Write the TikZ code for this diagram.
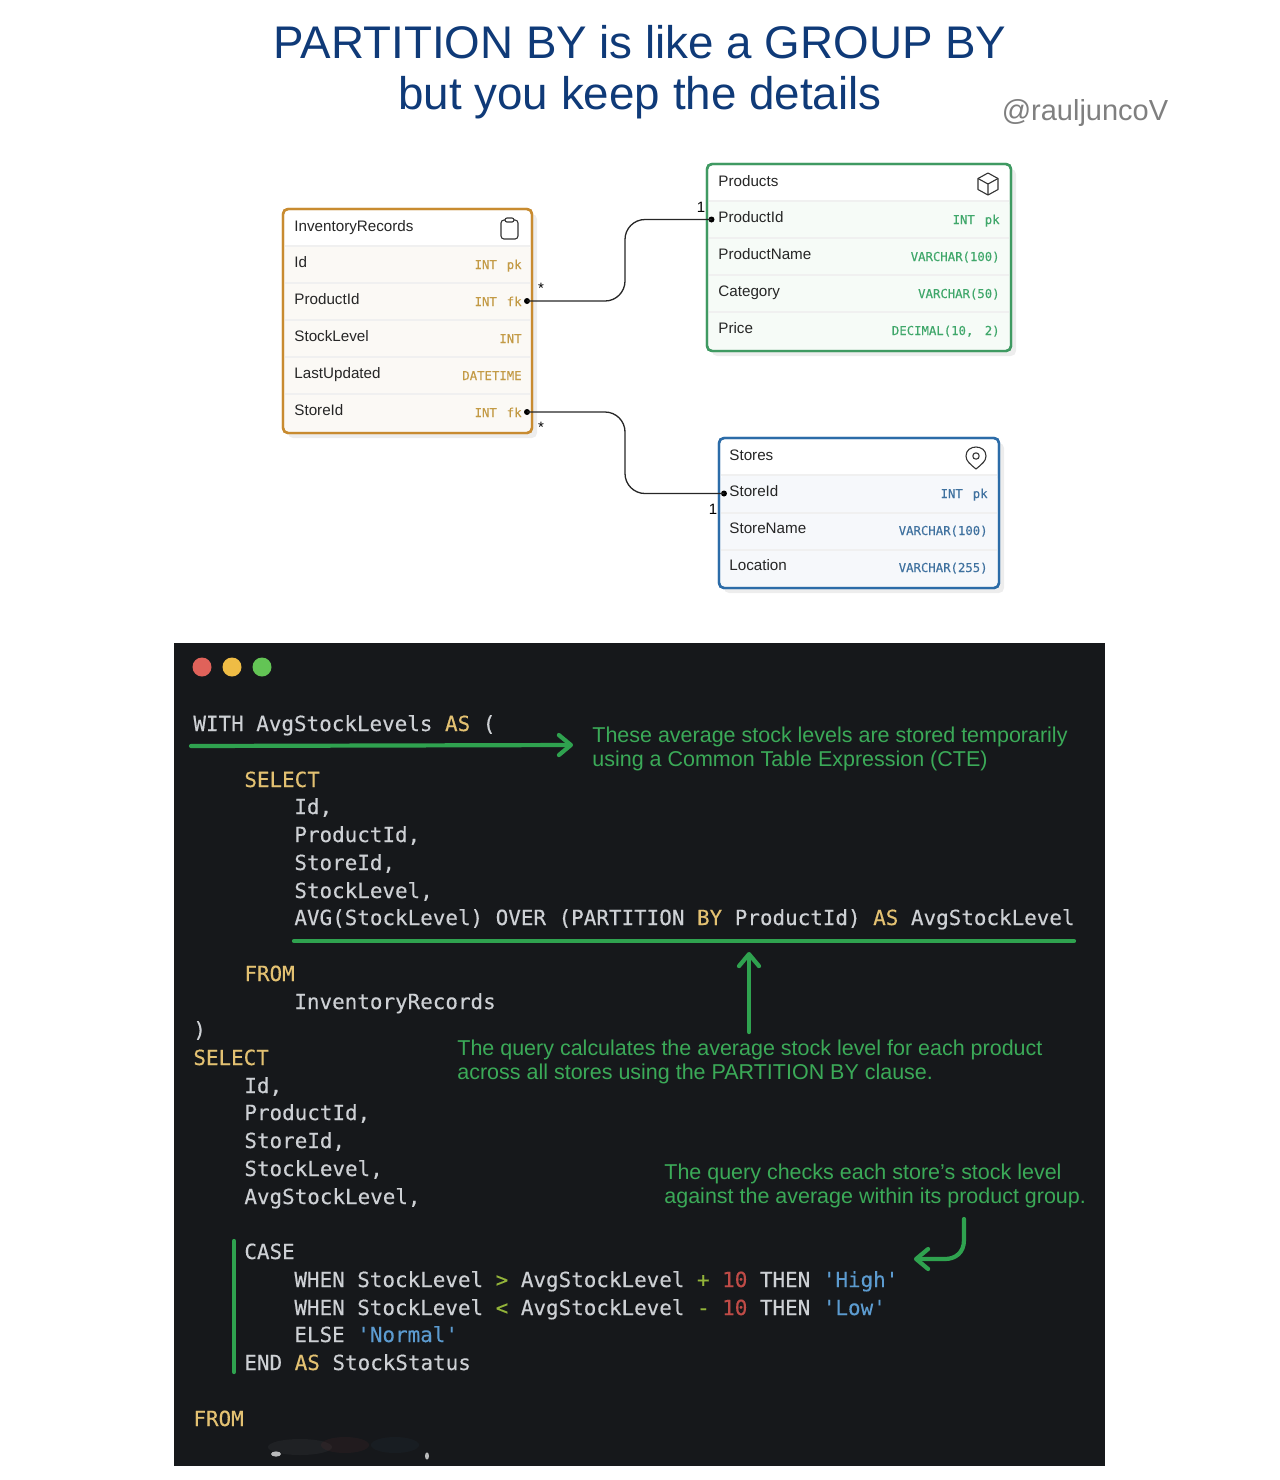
\documentclass[tikz,border=0pt]{standalone}
\usepackage{fontspec}
\setmainfont{Liberation Sans}
\newfontfamily\codefont[FakeBold=0.25]{DejaVu Sans Mono}
\usepackage{xcolor}
\usetikzlibrary{positioning,calc,shadows,arrows.meta}

\definecolor{titleblue}{HTML}{0F3A78}
\definecolor{handlegray}{HTML}{7F7F7F}
\definecolor{invline}{HTML}{C88B30}
\definecolor{invtint}{HTML}{FBF9F5}
\definecolor{invtype}{HTML}{C39A45}
\definecolor{prodline}{HTML}{3F9A62}
\definecolor{prodtint}{HTML}{F6FBF7}
\definecolor{prodtype}{HTML}{3FA76A}
\definecolor{storeline}{HTML}{2C6CA8}
\definecolor{storetint}{HTML}{F6F8FB}
\definecolor{storetype}{HTML}{3F719F}
\definecolor{windowbg}{HTML}{16181B}
\definecolor{codetext}{HTML}{CDD0D4}
\definecolor{codekey}{HTML}{E3C172}
\definecolor{codenum}{HTML}{BF4B47}
\definecolor{codestr}{HTML}{5C9BD0}
\definecolor{codeop}{HTML}{93B43A}
\definecolor{annotgreen}{HTML}{2FA24F}
\definecolor{annottext}{HTML}{3BAA58}
\definecolor{btnred}{HTML}{E0625A}
\definecolor{btnyellow}{HTML}{EFBC45}
\definecolor{btngreen}{HTML}{63C455}

\newcommand{\kw}[1]{\textcolor{codekey}{#1}}
\newcommand{\num}[1]{\textcolor{codenum}{#1}}
\newcommand{\str}[1]{\textcolor{codestr}{#1}}
\newcommand{\op}[1]{\textcolor{codeop}{#1}}

\tikzset{
    titletext/.style={anchor=base, font=\fontsize{22.87}{26}\selectfont, text=titleblue, inner sep=0},
    entitybox/.style={rectangle, rounded corners=2.5pt, line width=1.2pt, fill=white, inner sep=0,
        drop shadow={shadow xshift=2.5pt, shadow yshift=-2.5pt, fill=black, opacity=0.07}},
    fieldname/.style={anchor=base west, inner sep=0, text=black!85, font=\fontsize{7.6}{9}\selectfont},
    fieldtype/.style={anchor=base east, inner sep=0, font=\codefont\fontsize{6.15}{8}\selectfont},
    portdot/.style={circle, fill=black, inner sep=0, minimum size=3pt},
    relation/.style={draw=black!85, line width=0.65pt, rounded corners=10pt},
    cardinal/.style={inner sep=0, text=black, font=\fontsize{7.5}{9}\selectfont},
    icon/.style={draw=black!80, line width=0.55pt, line join=round},
    codeline/.style={anchor=base west, inner sep=0, yshift=0.5pt, text=codetext, font=\codefont\fontsize{10.45}{13}\selectfont},
    annot/.style={anchor=west, inner sep=0, text=annottext, font=\fontsize{10.74}{13}\selectfont},
    greenline/.style={draw=annotgreen, line width=2.1pt, line cap=round},
    greenarrow/.style={greenline, -{Straight Barb[length=6pt, width=10pt, round]}},
    winbtn/.style={circle, inner sep=0, minimum size=9.5pt}
}

\begin{document}
\begin{tikzpicture}[x=0.5pt, y=-0.5pt]
    \useasboundingbox (0,0) rectangle (1280,1480);

    % Title
    \node[titletext] (title1) at (640,58) {PARTITION BY is like a GROUP BY};
    \node[titletext] (title2) at (640,109) {but you keep the details};
    \node[inner sep=0, text=handlegray, font=\fontsize{14.5}{17}\selectfont] (handle) at (1085,113) {@rauljuncoV};

    % InventoryRecords
    \node[entitybox, draw=invline, minimum width=124.5pt, minimum height=112pt] (inv) at (407.5,321) {};
    \fill[invtint, rounded corners=2pt] (285,246) rectangle (530.5,431.5);
    \draw[invline, line width=1.2pt, rounded corners=2.5pt] (283,209) rectangle (532,433);
    \foreach \y in {246,283,320,357,394}
        \draw[black!6, line width=0.6pt] (285,\y) -- (530,\y);
    \node[fieldname] (invtitle) at (294,231) {InventoryRecords};
    \foreach \i/\y/\val/\kind in {1/267/Id/INT\hspace{5pt}pk, 2/304/ProductId/INT\hspace{5pt}fk, 3/341/StockLevel/INT, 4/378/LastUpdated/DATETIME, 5/415/StoreId/INT\hspace{5pt}fk} {
        \node[fieldname] (invname\i) at (294,\y) {\val};
        \node[fieldtype, text=invtype] (invtype\i) at (522,\y+2) {\kind};
    }
    % clipboard
    \draw[icon, rounded corners=1.5pt] (501,220) rectangle (518,239);
    \draw[icon, rounded corners=1pt, fill=white] (505,218) rectangle (514,222);

    % Products
    \node[entitybox, draw=prodline, minimum width=152pt, minimum height=93.5pt] (prod) at (859,257.5) {};
    \fill[prodtint, rounded corners=2pt] (709,201) rectangle (1009.5,349.5);
    \draw[prodline, line width=1.2pt, rounded corners=2.5pt] (707,164) rectangle (1011,351);
    \foreach \y in {201,238,275,312}
        \draw[black!6, line width=0.6pt] (709,\y) -- (1009,\y);
    \node[fieldname] (prodtitle) at (718,186) {Products};
    \foreach \i/\y/\val/\kind in {1/222/ProductId/INT\hspace{5pt}pk, 2/259/ProductName/VARCHAR(100), 3/296/Category/VARCHAR(50), 4/333/Price/{DECIMAL(10, \hspace{2pt}2)}} {
        \node[fieldname] (prodname\i) at (718,\y) {\val};
        \node[fieldtype, text=prodtype] (prodtype\i) at (1000,\y+2) {\kind};
    }
    % cube
    \draw[icon] (988,173) -- (998,178.5) -- (998,189.5) -- (988,195) -- (978,189.5) -- (978,178.5) -- cycle;
    \draw[icon] (978,178.5) -- (988,184) -- (998,178.5) (988,184) -- (988,195);

    % Stores
    \node[entitybox, draw=storeline, minimum width=140pt, minimum height=75pt] (store) at (859,513) {};
    \fill[storetint, rounded corners=2pt] (721,475) rectangle (997.5,586.5);
    \draw[storeline, line width=1.2pt, rounded corners=2.5pt] (719,438) rectangle (999,588);
    \foreach \y in {475,513,550}
        \draw[black!6, line width=0.6pt] (721,\y) -- (997,\y);
    \node[fieldname] (storetitle) at (729,460) {Stores};
    \foreach \i/\y/\val/\kind in {1/496/StoreId/INT\hspace{5pt}pk, 2/533/StoreName/VARCHAR(100), 3/570/Location/VARCHAR(255)} {
        \node[fieldname] (storename\i) at (729,\y) {\val};
        \node[fieldtype, text=storetype] (storetype\i) at (988,\y+2) {\kind};
    }
    % pin
    \draw[icon] (976,469) .. controls (970,464) and (966,461) .. (966,456) .. controls (966,450) and (971,447) .. (976,447) .. controls (981,447) and (986,450) .. (986,456) .. controls (986,461) and (982,464) .. (976,469) -- cycle;
    \draw[icon] (976,456) circle (1.6pt);

    % Relations
    \node[portdot] (portinv1) at (527,301) {};
    \node[portdot] (portprod) at (711.5,219.5) {};
    \node[portdot] (portinv2) at (527,412) {};
    \node[portdot] (portstore) at (724,493.5) {};
    \draw[relation] (portinv1.center) -| (625,260) |- (portprod.center);
    \draw[relation] (portinv2.center) -| (625,450) |- (portstore.center);
    \node[cardinal] (star1) at (541,288) {*};
    \node[cardinal] (star2) at (541,427) {*};
    \node[cardinal] (one1) at (701,207) {1};
    \node[cardinal] (one2) at (713,509) {1};

    % Code window
    \node[rectangle, fill=windowbg, inner sep=0, minimum width=465.5pt, minimum height=411.5pt] (window) at (639.5,1054.5) {};
    \node[winbtn, fill=btnred] (btn1) at (202,667) {};
    \node[winbtn, fill=btnyellow] (btn2) at (232,667) {};
    \node[winbtn, fill=btngreen] (btn3) at (262,667) {};

    % Code lines
    \foreach \i/\x/\y/\val in {
        1/193/732/{WITH AvgStockLevels \kw{AS} (},
        2/244/788/{\kw{SELECT}},
        3/294/815/{Id,},
        4/294/843/{ProductId,},
        5/294/871/{StoreId,},
        6/294/899/{StockLevel,},
        7/294/926/{AVG(StockLevel) OVER (PARTITION \kw{BY} ProductId) \kw{AS} AvgStockLevel},
        8/244/982/{\kw{FROM}},
        9/294/1010/{InventoryRecords},
        10/193/1038/{)},
        11/193/1066/{\kw{SELECT}},
        12/244/1094/{Id,},
        13/244/1121/{ProductId,},
        14/244/1149/{StoreId,},
        15/244/1177/{StockLevel,},
        16/244/1205/{AvgStockLevel,},
        17/244/1260/{CASE},
        18/294/1288/{WHEN StockLevel \op{>} AvgStockLevel \op{+} \num{10} THEN \str{'High'}},
        19/294/1316/{WHEN StockLevel \op{<} AvgStockLevel \op{-} \num{10} THEN \str{'Low'}},
        20/294/1343/{ELSE \str{'Normal'}},
        21/244/1371/{END \kw{AS} StockStatus},
        22/193/1427/{\kw{FROM}}
    }
        \node[codeline] (code\i) at (\x,\y) {\val};

    % Blurred table name
    \fill[white, opacity=0.7] (276,1454) ellipse (2.5pt and 1.3pt);
    \fill[codetext, opacity=0.05] (300,1447) ellipse (16pt and 4pt);
    \fill[codenum, opacity=0.07] (345,1445) ellipse (12pt and 4pt);
    \fill[codestr, opacity=0.04] (395,1445) ellipse (12pt and 4pt);
    \fill[white, opacity=0.7] (427,1456) ellipse (1pt and 1.8pt);

    % Annotations
    \node[annot] (cte1) at (592,737) {These average stock levels are stored temporarily};
    \node[annot] (cte2) at (592,761) {using a Common Table Expression (CTE)};
    \node[annot] (calc1) at (457,1050) {The query calculates the average stock level for each product};
    \node[annot] (calc2) at (457,1074) {across all stores using the PARTITION BY clause.};
    \node[annot] (check1) at (664,1174) {The query checks each store's stock level};
    \node[annot] (check2) at (664,1198) {against the average within its product group.};

    \coordinate (ctestart) at (191,746);
    \coordinate (cteend) at (573,745);
    \coordinate (partstart) at (294,941);
    \coordinate (partend) at (1074,941);
    \coordinate (upstart) at (749,1032);
    \coordinate (upend) at (749,952);
    \coordinate (checkstart) at (964,1219);
    \coordinate (checkend) at (914,1259);
    \coordinate (casetop) at (234,1241);
    \coordinate (casebot) at (234,1372);

    \draw[greenarrow] (ctestart) -- (cteend);
    \draw[greenline] (partstart) -- (partend);
    \draw[greenarrow] (upstart) -- (upend);
    \draw[greenarrow] (checkstart) -- (964,1240) .. controls (964,1253) and (955,1259) .. (945,1259) -- (checkend);
    \draw[greenline] (casetop) -- (casebot);
\end{tikzpicture}
\end{document}
